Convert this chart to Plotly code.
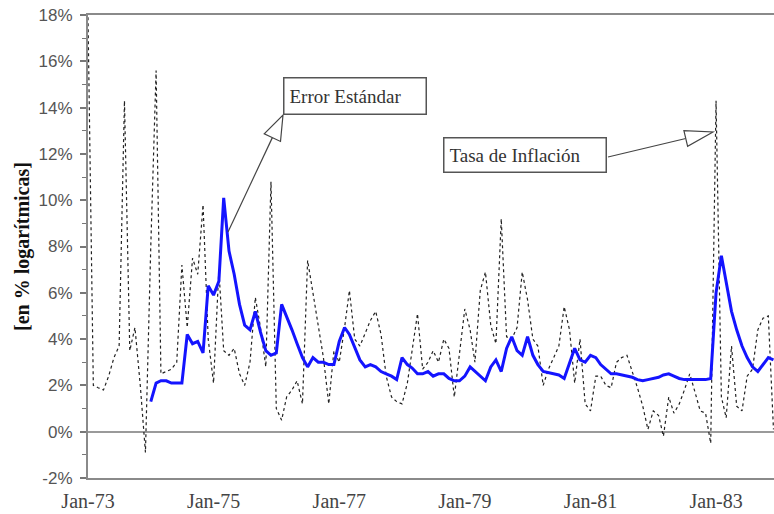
import pandas as pd
import plotly.graph_objects as go

# Monthly series, Jan 1973 - Dec 1983 (log-percent changes)
inflation = [
    17.9, 2.0, 1.9, 1.8, 2.4, 3.2, 3.7, 14.3, 3.5, 4.5, 2.0, -0.9,    # 1973
    8.0, 15.6, 2.5, 2.6, 2.7, 3.0, 7.2, 4.5, 7.5, 6.8, 9.8, 4.0,      # 1974
    2.1, 7.0, 3.5, 3.3, 3.6, 2.5, 2.0, 3.0, 5.8, 4.5, 2.8, 10.8,      # 1975
    1.0, 0.5, 1.5, 1.8, 2.2, 1.2, 7.4, 6.0, 4.5, 3.2, 1.2, 3.5,       # 1976
    3.0, 4.5, 6.1, 4.0, 3.7, 4.3, 4.8, 5.2, 4.2, 2.4, 1.5, 1.3,       # 1977
    1.2, 2.1, 3.5, 5.1, 2.7, 3.0, 3.5, 3.0, 4.0, 3.6, 1.5, 3.5,       # 1978
    5.3, 4.4, 3.0, 6.1, 6.9, 4.6, 3.8, 9.2, 4.1, 4.0, 4.5, 6.9,       # 1979
    5.7, 4.0, 3.7, 2.0, 2.7, 3.2, 3.7, 5.4, 4.4, 2.1, 4.0, 1.2,       # 1980
    0.9, 2.4, 2.4, 2.0, 1.9, 3.0, 3.2, 3.3, 2.6, 1.9, 1.1, 0.1,       # 1981
    0.9, 0.7, -0.2, 1.5, 0.8, 1.2, 1.8, 2.5, 1.7, 0.9, 0.8, -0.5,     # 1982
    14.3, 1.5, 0.6, 3.7, 1.1, 0.9, 2.4, 2.7, 4.4, 4.9, 5.0, 0.1,      # 1983
]

std_error = [None] * 12 + [                                          # 1973: no estimate
    1.3, 2.1, 2.2, 2.2, 2.1, 2.1, 2.1, 4.2, 3.8, 3.9, 3.4, 6.3,       # 1974
    5.9, 6.5, 10.1, 7.8, 6.8, 5.5, 4.6, 4.4, 5.2, 4.3, 3.5, 3.3,      # 1975
    3.4, 5.5, 5.0, 4.4, 3.8, 3.2, 2.8, 3.2, 3.0, 3.0, 2.9, 2.9,       # 1976
    3.9, 4.5, 4.2, 3.6, 3.1, 2.8, 2.9, 2.8, 2.6, 2.5, 2.4, 2.25,      # 1977
    3.2, 2.9, 2.75, 2.5, 2.5, 2.6, 2.4, 2.5, 2.5, 2.3, 2.2, 2.2,      # 1978
    2.4, 2.8, 2.6, 2.4, 2.2, 2.8, 3.1, 2.6, 3.6, 4.1, 3.5, 3.3,       # 1979
    4.1, 3.3, 2.9, 2.6, 2.55, 2.5, 2.45, 2.3, 3.0, 3.6, 3.1, 3.0,     # 1980
    3.3, 3.2, 2.9, 2.7, 2.5, 2.5, 2.45, 2.4, 2.35, 2.25, 2.2, 2.25,   # 1981
    2.3, 2.35, 2.45, 2.5, 2.4, 2.3, 2.25, 2.25, 2.25, 2.25, 2.25, 2.3,  # 1982
    6.0, 7.6, 6.5, 5.2, 4.4, 3.7, 3.2, 2.8, 2.6, 2.9, 3.2, 3.1,       # 1983
]

months = pd.date_range("1973-01-01", periods=len(inflation), freq="MS")

x_tick_dates = ["1973-01-01", "1975-01-01", "1977-01-01", "1979-01-01",
                "1981-01-01", "1983-01-01"]
x_tick_labels = ["Jan-73", "Jan-75", "Jan-77", "Jan-79", "Jan-81", "Jan-83"]
y_tick_values = [-2, 0, 2, 4, 6, 8, 10, 12, 14, 16, 18]
y_tick_labels = ["-2%", "0%", "2%", "4%", "6%", "8%", "10%", "12%", "14%", "16%", "18%"]

W, H = 774, 514
L, T, R, B = 88, 15, 0, 36
PW, PH = W - L - R, H - T - B


def px(xp):
    """page pixel x -> paper fraction"""
    return (xp - L) / PW


def py(yp):
    """page pixel y -> paper fraction"""
    return (H - B - yp) / PH


fig = go.Figure()
fig.add_trace(go.Scatter(
    x=months, y=inflation, mode="lines", name="Tasa de Inflación",
    line=dict(color="#222222", width=1.2, dash="dot"),
))
fig.add_trace(go.Scatter(
    x=months, y=std_error, mode="lines", name="Error Estándar",
    line=dict(color="#1414ff", width=3),
))

serif = "Liberation Serif, Times New Roman, serif"
sans = "Liberation Sans, Arial, sans-serif"


def callout(text, left, top, right, bottom):
    bw, pad = 1.5, 5
    return dict(
        text=text, xref="paper", yref="paper", x=px(left), y=py(top),
        xanchor="left", yanchor="top", showarrow=False, align="left",
        valign="middle", width=right - left - 2 * (bw + pad),
        height=bottom - top - 2 * (bw + pad), bordercolor="#555555",
        borderwidth=bw, borderpad=pad, bgcolor="white",
        font=dict(family=serif, size=19, color="#333333"),
    )


def hollow_arrow(tail, tip, head_len, half_w):
    (x0, y0), (x1, y1) = tail, tip
    dx, dy = x1 - x0, y1 - y0
    n = (dx * dx + dy * dy) ** 0.5
    ux, uy = dx / n, dy / n
    bx, by = x1 - head_len * ux, y1 - head_len * uy
    nx, ny = -uy, ux
    c1 = (bx + half_w * nx, by + half_w * ny)
    c2 = (bx - half_w * nx, by - half_w * ny)
    line = dict(type="line", xref="paper", yref="paper",
                x0=px(x0), y0=py(y0), x1=px(bx), y1=py(by),
                line=dict(color="#444444", width=1.2))
    head = dict(type="path", xref="paper", yref="paper",
                path=(f"M {px(x1)} {py(y1)} L {px(c1[0])} {py(c1[1])} "
                      f"L {px(c2[0])} {py(c2[1])} Z"),
                fillcolor="white", line=dict(color="#444444", width=1.2))
    return [line, head]


shapes = []
shapes += hollow_arrow((228, 232), (283, 115), 25, 9)
shapes += hollow_arrow((608, 157), (713, 132), 28, 8)

fig.update_layout(
    width=W, height=H,
    margin=dict(l=L, r=R, t=T, b=B, pad=0),
    paper_bgcolor="white", plot_bgcolor="white",
    showlegend=False,
    shapes=shapes,
    annotations=[
        callout("Error Estándar", 283, 77, 427, 115),
        callout("Tasa de Inflación", 443, 137, 607, 173),
    ],
    xaxis=dict(
        type="date", range=["1973-01-01", "1983-12-04"],
        tickmode="array", tickvals=x_tick_dates, ticktext=x_tick_labels,
        ticks="", showgrid=False, zeroline=False,
        showline=True, linecolor="#8a8a8a", linewidth=2, mirror=True,
        tickfont=dict(family=serif, size=20, color="#444444"),
        ticklabelstandoff=4,
    ),
    yaxis=dict(
        range=[-2, 18], tickmode="array", tickvals=y_tick_values,
        ticktext=y_tick_labels, ticks="outside", ticklen=6, tickwidth=1.5,
        tickcolor="#777777",
        minor=dict(dtick=1, ticks="outside", ticklen=4, tickcolor="#777777",
                   tickwidth=1),
        showgrid=False, showline=True, linecolor="#8a8a8a", linewidth=2,
        zeroline=True, zerolinecolor="#9a9a9a", zerolinewidth=2,
        tickfont=dict(family=sans, size=17, color="#555555"),
        ticklabelstandoff=4,
        title=dict(text="[en % logarítmicas]", standoff=4,
                   font=dict(family=serif, size=20, color="#111111",
                             weight="bold")),
    ),
)

fig.write_html("out.html")
